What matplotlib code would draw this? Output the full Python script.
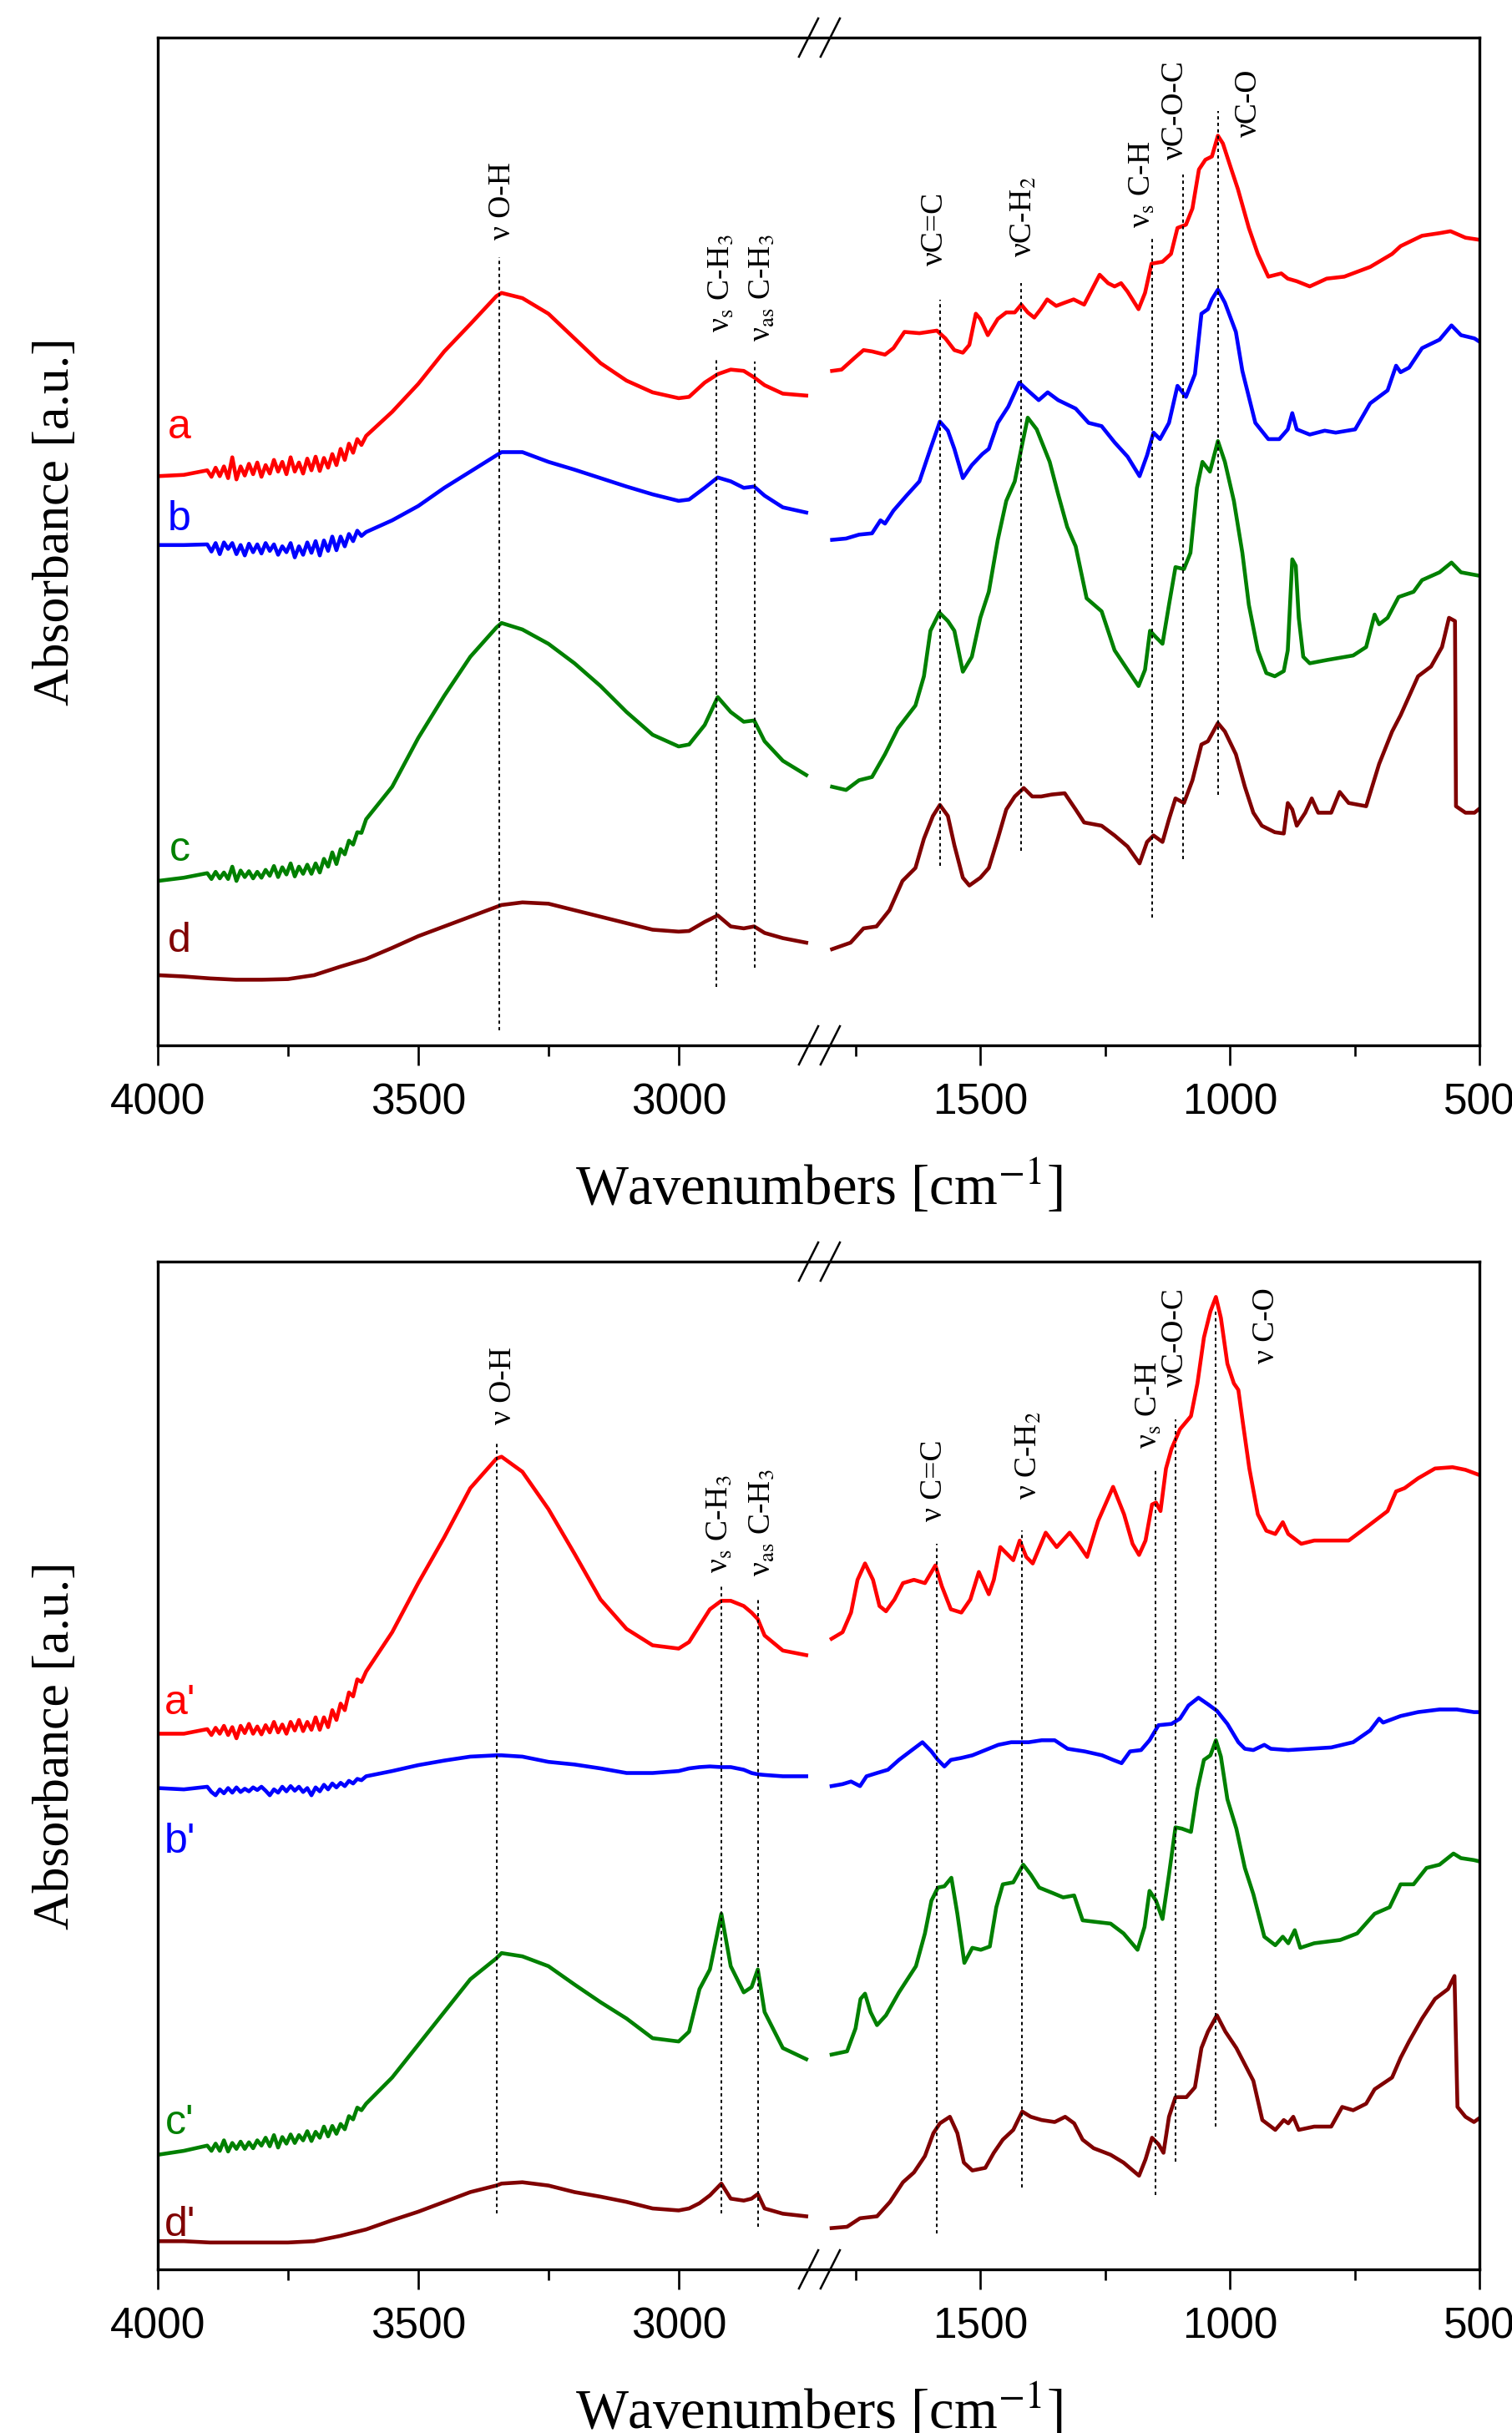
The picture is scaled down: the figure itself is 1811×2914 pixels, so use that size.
import numpy as np
import matplotlib
matplotlib.use("Agg")
import matplotlib.pyplot as plt
from matplotlib.ticker import FixedLocator, NullLocator

plt.rcParams['mathtext.fontset'] = 'stix'
plt.rcParams['font.family'] = ['Liberation Serif', 'DejaVu Serif']

# ---------------- data (wavenumber in cm-1, absorbance in a.u.) ----------------
# top panel, high wavenumber part (common grid)
wn_left_top = [4000, 3950, 3900, 3850, 3800, 3750, 3700, 3650, 3600, 3550, 3500, 3450, 3400,
               3350, 3340, 3300, 3250, 3200, 3150, 3100, 3050, 3000, 2980, 2950, 2925, 2900,
               2875, 2855, 2835, 2800, 2755]
a_left = [.876, .878, .882, .884, .888, .892, .893, .906, .938, .975, 1.018, 1.068, 1.110, 1.153,
          1.158, 1.150, 1.126, 1.088, 1.050, 1.023, 1.005, .996, .998, 1.020, 1.033, 1.040, 1.038,
          1.028, 1.016, 1.003, 1.000]
b_left = [.770, .770, .766, .763, .766, .763, .763, .768, .790, .808, .830, .858, .883, .908, .913,
          .913, .898, .886, .873, .860, .848, .838, .840, .858, .874, .868, .858, .860, .846, .828, .820]
c_left = [.253, .258, .261, .263, .263, .268, .270, .293, .348, .398, .473, .538, .598, .643, .650,
          .640, .618, .588, .553, .513, .478, .460, .463, .493, .536, .513, .498, .500, .468, .438, .416]
d_left = [.108, .106, .103, .101, .101, .102, .108, .121, .133, .150, .168, .183, .198, .213, .216,
          .220, .218, .208, .198, .188, .178, .175, .176, .190, .200, .183, .180, .183, .173, .165, .158]

# noisy stretch 3905-3609 cm-1, read finer
wn_noise = [3905, 3897, 3889, 3881, 3873, 3865, 3857, 3849, 3841, 3833, 3825, 3817, 3809, 3801,
            3793, 3785, 3777, 3769, 3761, 3753, 3745, 3737, 3729, 3721, 3713, 3705, 3697, 3689,
            3681, 3673, 3665, 3657, 3649, 3641, 3633, 3625, 3617, 3609]
a_noise = [.885, .875, .889, .876, .891, .873, .905, .871, .891, .877, .895, .879, .897, .875, .893,
           .880, .901, .883, .898, .879, .905, .883, .897, .880, .903, .885, .906, .884, .904, .889,
           .910, .893, .918, .901, .926, .912, .933, .924]
b_noise = [.771, .760, .773, .756, .774, .764, .773, .756, .770, .754, .772, .759, .771, .757, .773,
           .761, .771, .755, .768, .759, .773, .751, .768, .755, .774, .758, .776, .754, .777, .761,
           .783, .762, .783, .768, .787, .776, .792, .784]
c_noise = [.265, .256, .267, .257, .266, .256, .275, .253, .269, .259, .268, .257, .267, .258, .270,
           .261, .276, .259, .274, .263, .280, .260, .275, .264, .278, .264, .280, .266, .287, .275,
           .297, .279, .302, .294, .315, .309, .328, .327]

# top panel, fingerprint part
a_wn = [1797, 1778, 1752, 1734, 1717, 1691, 1674, 1652, 1622, 1587, 1570, 1552, 1535, 1522, 1509,
        1500, 1485, 1465, 1448, 1431, 1418, 1405, 1392, 1379, 1366, 1348, 1331, 1313, 1292, 1261,
        1244, 1231, 1218, 1205, 1183, 1170, 1157, 1135, 1118, 1105, 1088, 1075, 1062, 1049, 1036,
        1024, 1014, 997, 984, 962, 944, 923, 897, 884, 866, 840, 806, 771, 719, 675, 658, 615, 580,
        558, 528, 502]
a_abs = [1.038, 1.040, 1.058, 1.070, 1.068, 1.063, 1.073, 1.098, 1.096, 1.100, 1.088, 1.070, 1.066,
         1.078, 1.126, 1.118, 1.093, 1.118, 1.128, 1.128, 1.140, 1.128, 1.120, 1.133, 1.148, 1.138,
         1.143, 1.148, 1.140, 1.186, 1.173, 1.168, 1.173, 1.160, 1.133, 1.158, 1.203, 1.206, 1.218,
         1.258, 1.263, 1.288, 1.348, 1.363, 1.368, 1.400, 1.388, 1.348, 1.318, 1.258, 1.218, 1.183,
         1.188, 1.180, 1.176, 1.168, 1.180, 1.183, 1.198, 1.218, 1.230, 1.246, 1.250, 1.253, 1.243,
         1.240]
b_wn = [1797, 1769, 1743, 1717, 1700, 1691, 1674, 1648, 1622, 1600, 1581, 1565, 1552, 1535, 1517,
        1496, 1483, 1465, 1444, 1422, 1405, 1383, 1365, 1344, 1309, 1283, 1257, 1231, 1205, 1181,
        1166, 1153, 1140, 1122, 1105, 1088, 1070, 1057, 1044, 1036, 1024, 1010, 988, 975, 962, 949,
        923, 901, 884, 875, 866, 840, 810, 788, 749, 719, 684, 667, 658, 641, 615, 580, 556, 537,
        510, 500]
b_abs = [.778, .780, .786, .788, .808, .803, .823, .846, .868, .918, .960, .946, .918, .873, .893,
         .910, .918, .958, .983, 1.020, 1.008, .993, 1.005, .993, .980, .958, .953, .928, .906, .876,
         .908, .943, .933, .958, 1.015, .998, 1.033, 1.126, 1.133, 1.148, 1.163, 1.143, 1.098, 1.038,
         .998, .958, .933, .933, .948, .973, .948, .940, .946, .943, .948, .988, 1.008, 1.046, 1.036,
         1.043, 1.073, 1.086, 1.108, 1.093, 1.088, 1.083]
c_wn = [1797, 1769, 1743, 1717, 1691, 1665, 1630, 1613, 1600, 1582, 1565, 1552, 1535, 1517, 1500,
        1483, 1465, 1448, 1431, 1418, 1405, 1387, 1361, 1344, 1326, 1309, 1287, 1257, 1231, 1205,
        1183, 1170, 1160, 1148, 1135, 1122, 1109, 1092, 1079, 1066, 1055, 1040, 1024, 1010, 992,
        975, 962, 944, 927, 910, 892, 884, 875, 868, 862, 853, 840, 806, 753, 727, 710, 701, 684,
        662, 632, 615, 580, 556, 537, 502]
c_abs = [.398, .393, .408, .413, .448, .488, .523, .568, .638, .666, .653, .638, .575, .598, .658,
         .698, .778, .838, .868, .918, .966, .948, .898, .848, .798, .768, .688, .668, .608, .578,
         .553, .578, .638, .628, .618, .678, .736, .733, .758, .858, .898, .883, .930, .898, .838,
         .758, .678, .608, .573, .568, .576, .608, .748, .738, .658, .598, .588, .593, .600, .613,
         .663, .648, .658, .690, .698, .716, .728, .743, .728, .723]
d_wn = [1797, 1760, 1734, 1708, 1682, 1656, 1630, 1613, 1595, 1581, 1565, 1552, 1535, 1522, 1500,
        1483, 1465, 1448, 1431, 1413, 1396, 1378, 1357, 1331, 1309, 1292, 1257, 1231, 1205, 1181,
        1166, 1153, 1135, 1122, 1109, 1092, 1075, 1057, 1044, 1024, 1010, 988, 970, 953, 936, 910,
        892, 884, 875, 866, 849, 836, 823, 797, 780, 762, 727, 701, 675, 658, 623, 597, 575, 561,
        549, 547, 528, 510, 502]
d_abs = [.148, .158, .180, .183, .208, .253, .273, .318, .353, .370, .353, .308, .258, .246, .258,
         .273, .318, .363, .383, .396, .383, .383, .386, .388, .363, .343, .338, .323, .306, .280,
         .313, .323, .313, .348, .380, .373, .408, .463, .468, .496, .483, .448, .398, .358, .338,
         .328, .326, .373, .363, .338, .358, .380, .358, .358, .390, .373, .368, .433, .483, .508,
         .568, .583, .613, .658, .653, .368, .358, .358, .363]

# bottom panel, high wavenumber part (common grid)
wn_left_bot = [4000, 3950, 3900, 3850, 3800, 3750, 3700, 3650, 3600, 3550, 3500, 3450, 3400,
               3350, 3340, 3300, 3250, 3200, 3150, 3100, 3050, 3000, 2980, 2960, 2940, 2918,
               2900, 2875, 2860, 2848, 2835, 2800, 2755]
a2_left = [.818, .818, .821, .823, .825, .828, .831, .853, .913, .973, 1.048, 1.118, 1.193, 1.238,
           1.241, 1.218, 1.161, 1.093, 1.023, .978, .953, .948, .958, .983, 1.008, 1.021, 1.021,
           1.013, 1.003, .993, .968, .945, .938]
b2_left = [.735, .733, .728, .731, .731, .735, .733, .743, .753, .761, .770, .777, .783, .785, .785,
           .783, .775, .771, .765, .758, .758, .761, .765, .767, .768, .767, .767, .763, .758, .756,
           .755, .753, .753]
c2_left = [.175, .181, .185, .188, .193, .198, .203, .213, .253, .293, .343, .393, .443, .475, .483,
           .478, .463, .435, .408, .383, .353, .348, .363, .428, .458, .543, .463, .423, .431, .458,
           .393, .338, .321]
d2_left = [.043, .043, .041, .041, .041, .041, .043, .051, .061, .075, .088, .103, .118, .128, .131,
           .133, .128, .118, .111, .103, .093, .090, .093, .101, .113, .131, .108, .105, .108, .115,
           .093, .085, .081]
a2_noise = [.825, .816, .827, .818, .830, .816, .828, .811, .830, .819, .833, .818, .829, .817,
            .831, .820, .836, .820, .832, .818, .836, .823, .839, .822, .836, .824, .843, .824,
            .843, .828, .854, .839, .864, .854, .881, .875, .901, .897]
b2_noise = [.737, .729, .724, .733, .727, .735, .728, .736, .729, .734, .730, .736, .732, .737,
            .731, .724, .733, .728, .737, .730, .738, .731, .737, .729, .735, .724, .736, .730,
            .740, .733, .742, .736, .743, .738, .746, .742, .749, .747]
c2_noise = [.189, .181, .192, .181, .197, .180, .193, .184, .195, .184, .194, .185, .197, .189,
            .201, .188, .205, .186, .202, .192, .206, .193, .205, .197, .211, .196, .210, .201,
            .218, .203, .219, .207, .222, .214, .234, .229, .247, .243]

# bottom panel, fingerprint part
a2_wn = [1798, 1776, 1759, 1746, 1731, 1715, 1702, 1689, 1672, 1655, 1633, 1611, 1590, 1577, 1559,
         1538, 1520, 1503, 1483, 1473, 1460, 1447, 1434, 1421, 1408, 1395, 1369, 1347, 1321, 1304,
         1286, 1264, 1234, 1212, 1195, 1182, 1169, 1156, 1148, 1139, 1128, 1117, 1100, 1078, 1065,
         1052, 1039, 1028, 1018, 1005, 992, 983, 974, 961, 944, 927, 909, 894, 883, 857, 831, 797,
         762, 727, 684, 667, 650, 623, 589, 554, 528, 500]
a2_abs = [.963, .973, 1.003, 1.053, 1.078, 1.053, 1.013, 1.005, 1.023, 1.048, 1.053, 1.048, 1.075,
          1.043, 1.008, 1.003, 1.023, 1.065, 1.031, 1.053, 1.103, 1.093, 1.083, 1.113, 1.088, 1.078,
          1.125, 1.103, 1.125, 1.108, 1.088, 1.143, 1.195, 1.153, 1.108, 1.091, 1.113, 1.168, 1.171,
          1.158, 1.223, 1.253, 1.283, 1.303, 1.353, 1.423, 1.463, 1.485, 1.453, 1.383, 1.353, 1.343,
          1.293, 1.223, 1.153, 1.128, 1.123, 1.141, 1.123, 1.108, 1.113, 1.113, 1.113, 1.133, 1.158,
          1.188, 1.193, 1.208, 1.223, 1.225, 1.221, 1.213]
b2_wn = [1798, 1776, 1759, 1741, 1728, 1707, 1685, 1663, 1637, 1616, 1598, 1585, 1572, 1559, 1538,
         1516, 1490, 1464, 1438, 1403, 1377, 1351, 1325, 1291, 1256, 1234, 1217, 1200, 1178, 1161,
         1143, 1117, 1100, 1083, 1063, 1044, 1026, 1005, 983, 970, 953, 931, 918, 883, 840, 797,
         753, 719, 701, 693, 658, 623, 580, 545, 511, 500]
b2_abs = [.738, .741, .745, .738, .753, .758, .763, .778, .793, .805, .791, .778, .768, .778, .781,
          .785, .793, .801, .805, .805, .808, .808, .795, .791, .785, .778, .773, .791, .793, .808,
          .831, .833, .841, .861, .873, .863, .853, .833, .805, .795, .793, .801, .795, .793, .795,
          .797, .805, .823, .841, .835, .845, .851, .855, .855, .851, .851]
c2_wn = [1798, 1767, 1750, 1740, 1731, 1720, 1707, 1689, 1663, 1629, 1611, 1598, 1585, 1572, 1558,
         1546, 1532, 1516, 1499, 1481, 1468, 1455, 1434, 1414, 1399, 1382, 1356, 1334, 1312, 1295,
         1273, 1239, 1213, 1185, 1171, 1161, 1148, 1135, 1122, 1109, 1096, 1078, 1065, 1052, 1039,
         1028, 1018, 1005, 987, 970, 953, 931, 909, 894, 883, 870, 859, 831, 779, 745, 710, 680,
         658, 632, 606, 580, 552, 537, 511, 500]
c2_abs = [.328, .333, .368, .413, .421, .393, .373, .388, .423, .463, .513, .563, .583, .585, .598,
          .543, .468, .491, .488, .493, .553, .588, .591, .618, .603, .583, .575, .568, .571, .533,
          .531, .528, .513, .488, .523, .578, .563, .535, .603, .675, .673, .668, .733, .778, .785,
          .808, .783, .718, .673, .613, .573, .508, .495, .508, .498, .518, .491, .498, .503, .513,
          .543, .553, .588, .588, .613, .618, .635, .628, .625, .623]
d2_wn = [1798, 1767, 1741, 1707, 1681, 1655, 1633, 1611, 1594, 1581, 1561, 1546, 1533, 1516, 1490,
         1473, 1455, 1434, 1416, 1399, 1377, 1351, 1330, 1312, 1295, 1273, 1239, 1213, 1182, 1169,
         1156, 1143, 1133, 1122, 1109, 1087, 1070, 1057, 1044, 1026, 1009, 987, 970, 953, 935, 909,
         892, 883, 873, 862, 831, 797, 775, 753, 727, 710, 675, 658, 641, 615, 589, 563, 550, 544,
         528, 511, 500]
d2_abs = [.063, .065, .078, .081, .103, .133, .148, .173, .208, .223, .233, .208, .163, .151, .155,
          .178, .198, .213, .241, .233, .228, .225, .233, .223, .198, .185, .175, .163, .143, .168,
          .201, .191, .178, .233, .263, .263, .278, .338, .363, .388, .363, .338, .313, .288, .228,
          .213, .228, .223, .233, .213, .218, .218, .248, .243, .253, .275, .293, .323, .348, .383,
          .413, .428, .448, .248, .233, .225, .231]

colors = ['#ff0000', '#0000ff', '#008000', '#800000']
names_top = ['a', 'b', 'c', 'd']
names_bot = ["a'", "b'", "c'", "d'"]
label_y_top = [0.951, 0.809, 0.301, 0.160]
label_y_bot = [0.865, 0.653, 0.223, 0.068]

# band assignments: position, line bottom, line top, text position, text bottom, label
bands_top = [
    (3344, 0.023, 1.213, 3338, 1.240, 'ν O-H'),
    (2928, 0.090, 1.058, 2918, 1.098, r'ν$_\mathrm{s}$ C-H$_3$'),
    (2854, 0.120, 1.053, 2840, 1.083, r'ν$_\mathrm{as}$ C-H$_3$'),
    (1581, 0.276, 1.148, 1591, 1.200, 'νC=C'),
    (1418, 0.300, 1.173, 1413, 1.213, r'νC-H$_2$'),
    (1155, 0.196, 1.243, 1174, 1.258, r'ν$_\mathrm{s}$ C-H'),
    (1094, 0.286, 1.340, 1109, 1.363, 'νC-O-C'),
    (1024, 0.386, 1.438, 962, 1.398, 'νC-O'),
]
bands_bot = [
    (3350, 0.085, 1.263, 3336, 1.291, 'ν O-H'),
    (2918, 0.085, 1.043, 2922, 1.063, r'ν$_\mathrm{s}$ C-H$_3$'),
    (2848, 0.065, 1.023, 2840, 1.058, r'ν$_\mathrm{as}$ C-H$_3$'),
    (1588, 0.055, 1.108, 1592, 1.143, 'ν C=C'),
    (1416, 0.125, 1.128, 1403, 1.175, r'ν C-H$_2$'),
    (1149, 0.113, 1.223, 1161, 1.253, r'ν$_\mathrm{s}$ C-H'),
    (1109, 0.165, 1.298, 1109, 1.348, 'νC-O-C'),
    (1028, 0.218, 1.468, 927, 1.383, 'ν C-O'),
]


# broken wavenumber axis: 4000-2730 and 1821-500
def fwd(w):
    w = np.asarray(w, dtype=float)
    left = (4000 - w) * 0.623
    mid = 791.2 + (2730 - w) / 909.0
    right = 792.2 + (1821 - w) * 0.597
    return -np.where(w >= 2730, left, np.where(w <= 1821, right, mid))


def inv(f):
    p = -np.asarray(f, dtype=float)
    wl = 4000 - p / 0.623
    wm = 2730 - (p - 791.2) * 909.0
    wr = 1821 - (p - 792.2) / 0.597
    return np.where(p <= 791.2, wl, np.where(p >= 792.2, wr, wm))


def with_noise(wn, vals, nvals):
    # swap the coarse grid points of the noisy stretch for the finer readings
    pts = [(w, v) for w, v in zip(wn, vals) if not (min(wn_noise) <= w <= max(wn_noise))]
    if nvals is not None:
        pts += list(zip(wn_noise, nvals))
    else:
        pts += [(w, v) for w, v in zip(wn, vals) if min(wn_noise) <= w <= max(wn_noise)]
    pts.sort(reverse=True)
    return [p[0] for p in pts], [p[1] for p in pts]


def draw_panel(ax, wn_left, lefts, noises, rights, names, label_y, bands, ytop):
    for i in range(4):
        xs, ys = with_noise(wn_left, lefts[i], noises[i])
        ax.plot(xs, ys, color=colors[i], lw=3.3, solid_joinstyle='round')
        ax.plot(rights[i][0], rights[i][1], color=colors[i], lw=3.3, solid_joinstyle='round')
        ax.text(3958, label_y[i], names[i], color=colors[i], fontsize=36,
                family=['Liberation Sans', 'DejaVu Sans'], ha='center', va='center')
    for pos, y0, y1, tx, ty, lab in bands:
        ax.vlines(pos, y0, y1, colors='black', lw=1.4, linestyles=(0, (2, 2)))
        ax.text(tx, ty, lab, rotation=90, ha='center', va='bottom', fontsize=27)

    ax.set_xscale('function', functions=(fwd, inv))
    ax.set_xlim(4000, 500)
    ax.set_ylim(0, ytop)
    ax.xaxis.set_major_locator(FixedLocator([4000, 3500, 3000, 1500, 1000, 500]))
    ax.xaxis.set_minor_locator(FixedLocator([3750, 3250, 1750, 1250, 750]))
    ax.set_xticklabels(['4000', '3500', '3000', '1500', '1000', '500'])
    ax.yaxis.set_major_locator(NullLocator())
    ax.yaxis.set_minor_locator(NullLocator())
    ax.tick_params(axis='x', which='major', direction='out', length=17, width=1.9, pad=15,
                   labelsize=37)
    ax.tick_params(axis='x', which='minor', direction='out', length=9.5, width=1.9)
    for lbl in ax.get_xticklabels():
        lbl.set_family(['Liberation Sans', 'DejaVu Sans'])
    for s in ax.spines.values():
        s.set_linewidth(2.4)

    ax.set_xlabel('Wavenumbers [cm$^{-1}$]', fontsize=48, labelpad=30)
    ax.set_ylabel('Absorbance [a.u.]', fontsize=44.5, va='center')
    ax.yaxis.set_label_coords(-0.077, 0.52)

    # break marks "//" on both horizontal spines
    for yb in (0, 1):
        for xc in (0.4924, 0.5088):
            ax.plot([xc - 0.0073, xc + 0.0073], [yb - 0.019, yb + 0.019], color='black',
                    lw=1.8, transform=ax.transAxes, clip_on=False)


fig = plt.figure(figsize=(18.11, 29.14), dpi=100)
ax_top = fig.add_axes([189 / 1811, 1 - 1252 / 2914, 1583 / 1811, 1207 / 2914])
ax_bot = fig.add_axes([189 / 1811, 1 - 2718 / 2914, 1583 / 1811, 1207 / 2914])

draw_panel(ax_top, wn_left_top, [a_left, b_left, c_left, d_left],
           [a_noise, b_noise, c_noise, None],
           [(a_wn, a_abs), (b_wn, b_abs), (c_wn, c_abs), (d_wn, d_abs)],
           names_top, label_y_top, bands_top, 1.551)
draw_panel(ax_bot, wn_left_bot, [a2_left, b2_left, c2_left, d2_left],
           [a2_noise, b2_noise, c2_noise, None],
           [(a2_wn, a2_abs), (b2_wn, b2_abs), (c2_wn, c2_abs), (d2_wn, d2_abs)],
           names_bot, label_y_bot, bands_bot, 1.539)

fig.savefig('out.png', dpi=100)
